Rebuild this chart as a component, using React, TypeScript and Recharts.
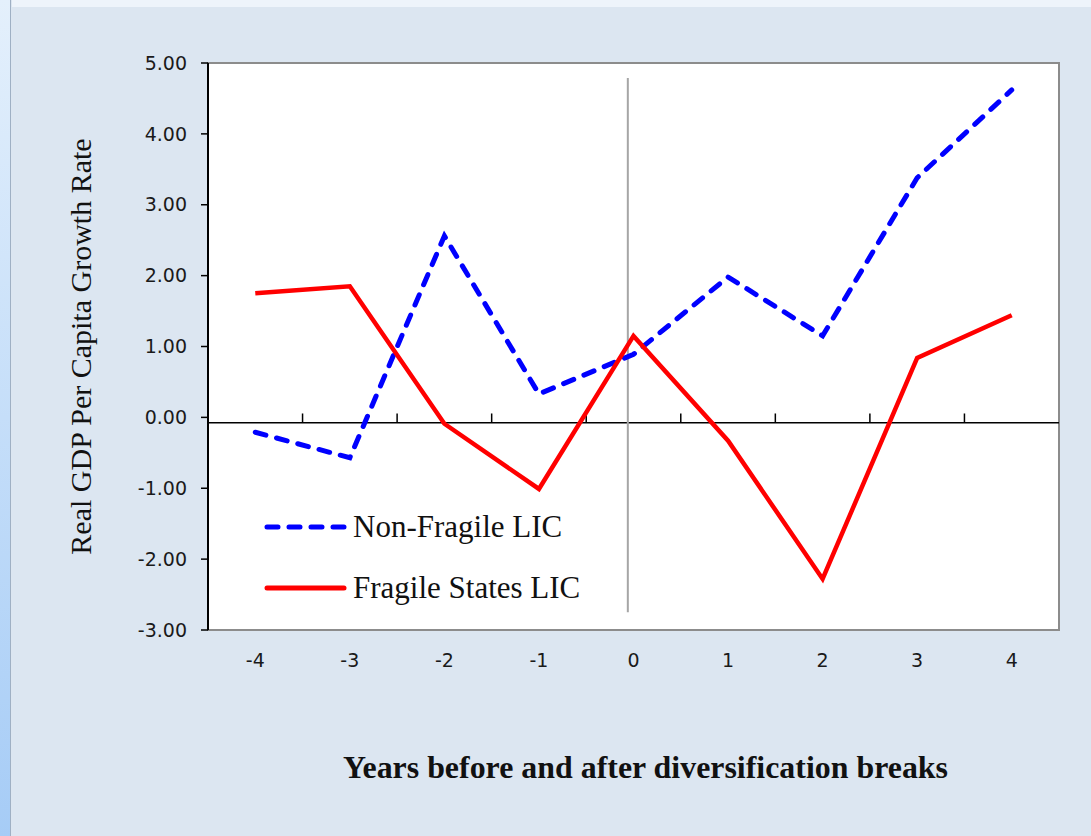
import {
  LineChart,
  Line,
  XAxis,
  YAxis,
  CartesianGrid,
  ReferenceArea,
  ReferenceLine,
  Legend,
} from "recharts";

const years = [-4, -3, -2, -1, 0, 1, 2, 3, 4];
const nonFragileLIC = [-0.21, -0.57, 2.56, 0.33, 0.89, 1.98, 1.15, 3.38, 4.62];
const fragileStatesLIC = [1.75, 1.85, -0.09, -1.01, 1.15, -0.33, -2.28, 0.84, 1.44];
const yTicks = [-3, -2, -1, 0, 1, 2, 3, 4, 5];
const bandEdges = [-3.5, -2.5, -1.5, -0.5, 0.5, 1.5, 2.5, 3.5];

const data = years.map((year, i) => ({
  year,
  nonFragile: nonFragileLIC[i],
  fragile: fragileStatesLIC[i],
}));

const series = [
  { key: "nonFragile", name: "Non-Fragile LIC", color: "#0000ff", dash: "11 11" },
  { key: "fragile", name: "Fragile States LIC", color: "#ff0000", dash: undefined },
];

// the category axis line sits a touch below zero in the original
const AXIS_Y = -0.075;
const BREAK_X = -0.06;

const tickStyle = { fontFamily: "'DejaVu Sans', sans-serif", fontSize: 19, fill: "#1a1a1a" };

function renderLegend() {
  return (
    <div>
      {series.map((s) => (
        <div
          key={s.key}
          style={{ display: "flex", alignItems: "center", height: 61 }}
        >
          <svg width={88} height={10} style={{ marginRight: 3 }}>
            <line
              x1={5}
              x2={82}
              y1={5}
              y2={5}
              stroke={s.color}
              strokeWidth={5}
              strokeDasharray={s.dash}
              strokeLinecap="round"
            />
          </svg>
          <span
            style={{
              fontFamily: "'Liberation Serif', serif",
              fontSize: 31,
              color: "#111",
              lineHeight: 1,
            }}
          >
            {s.name}
          </span>
        </div>
      ))}
    </div>
  );
}

function YTitle(props: any) {
  const { viewBox } = props;
  const cy = viewBox.y + viewBox.height / 2;
  return (
    <text
      x={80}
      y={cy}
      transform={`rotate(-90, 80, ${cy})`}
      textAnchor="middle"
      dominantBaseline="central"
      fontFamily="'Liberation Serif', serif"
      fontSize={30}
      fill="#111"
    >
      Real GDP Per Capita Growth Rate
    </text>
  );
}

function XTitle(props: any) {
  const { viewBox } = props;
  const cx = viewBox.x + viewBox.width / 2 + 12;
  return (
    <text
      x={cx}
      y={778}
      textAnchor="middle"
      fontFamily="'Liberation Serif', serif"
      fontWeight="bold"
      fontSize={31}
      textLength={605}
      lengthAdjust="spacingAndGlyphs"
      fill="#111"
    >
      Years before and after diversification breaks
    </text>
  );
}

export default function App() {
  return (
    <div
      style={{
        position: "absolute",
        left: 0,
        top: 0,
        width: 1091,
        height: 836,
        background: "#dce6f1",
        overflow: "hidden",
      }}
    >
      <div
        style={{
          position: "absolute",
          left: 0,
          top: 0,
          width: 10,
          height: 836,
          background: "linear-gradient(to bottom, #e4f0fc, #a6ccf6)",
          borderRight: "1.5px solid #9fb0c4",
        }}
      />
      <div
        style={{
          position: "absolute",
          left: 12,
          top: 0,
          width: 1079,
          height: 7,
          background: "#eef4fb",
        }}
      />
      <div style={{ position: "absolute", left: 0, top: 0 }}>
        <LineChart
          width={1091}
          height={836}
          data={data}
          margin={{ top: 63, right: 32, bottom: 0, left: 0 }}
        >
          <CartesianGrid
            horizontal={false}
            vertical={false}
            fill="#ffffff"
            fillOpacity={1}
          />
          <ReferenceArea
            x1={-4.5}
            x2={4.5}
            y1={-3}
            y2={5}
            fill="none"
            stroke="#8c8c8c"
            strokeWidth={2}
          />
          <XAxis
            type="number"
            dataKey="year"
            domain={[-4.5, 4.5]}
            ticks={years}
            interval={0}
            height={206}
            axisLine={false}
            tickLine={false}
            tickSize={0}
            tickMargin={24}
            tick={tickStyle}
            label={<XTitle />}
          />
          <YAxis
            type="number"
            domain={[-3, 5]}
            ticks={yTicks}
            interval={0}
            width={208}
            tickFormatter={(v: number) => v.toFixed(2)}
            axisLine={{ stroke: "#000", strokeWidth: 2 }}
            tickLine={{ stroke: "#000", strokeWidth: 1.5 }}
            tickSize={7}
            tickMargin={14}
            tick={tickStyle}
            label={<YTitle />}
          />
          <ReferenceLine y={AXIS_Y} stroke="#000" strokeWidth={1.5} />
          {bandEdges.map((e) => (
            <ReferenceLine
              key={e}
              segment={[
                { x: e, y: AXIS_Y },
                { x: e, y: 0.055 },
              ]}
              stroke="#000"
              strokeWidth={1.5}
            />
          ))}
          <ReferenceLine
            segment={[
              { x: BREAK_X, y: 4.79 },
              { x: BREAK_X, y: -2.75 },
            ]}
            stroke="#a6a6a6"
            strokeWidth={2}
          />
          <Legend
            layout="vertical"
            align="center"
            verticalAlign="middle"
            wrapperStyle={{ left: 262, top: 496, width: "auto" }}
            content={renderLegend}
          />
          {series.map((s) => (
            <Line
              key={s.key}
              type="linear"
              dataKey={s.key}
              name={s.name}
              stroke={s.color}
              strokeWidth={s.dash ? 5 : 4.5}
              strokeDasharray={s.dash}
              strokeLinecap={s.dash ? "round" : "butt"}
              dot={false}
              activeDot={false}
              isAnimationActive={false}
            />
          ))}
        </LineChart>
      </div>
    </div>
  );
}
